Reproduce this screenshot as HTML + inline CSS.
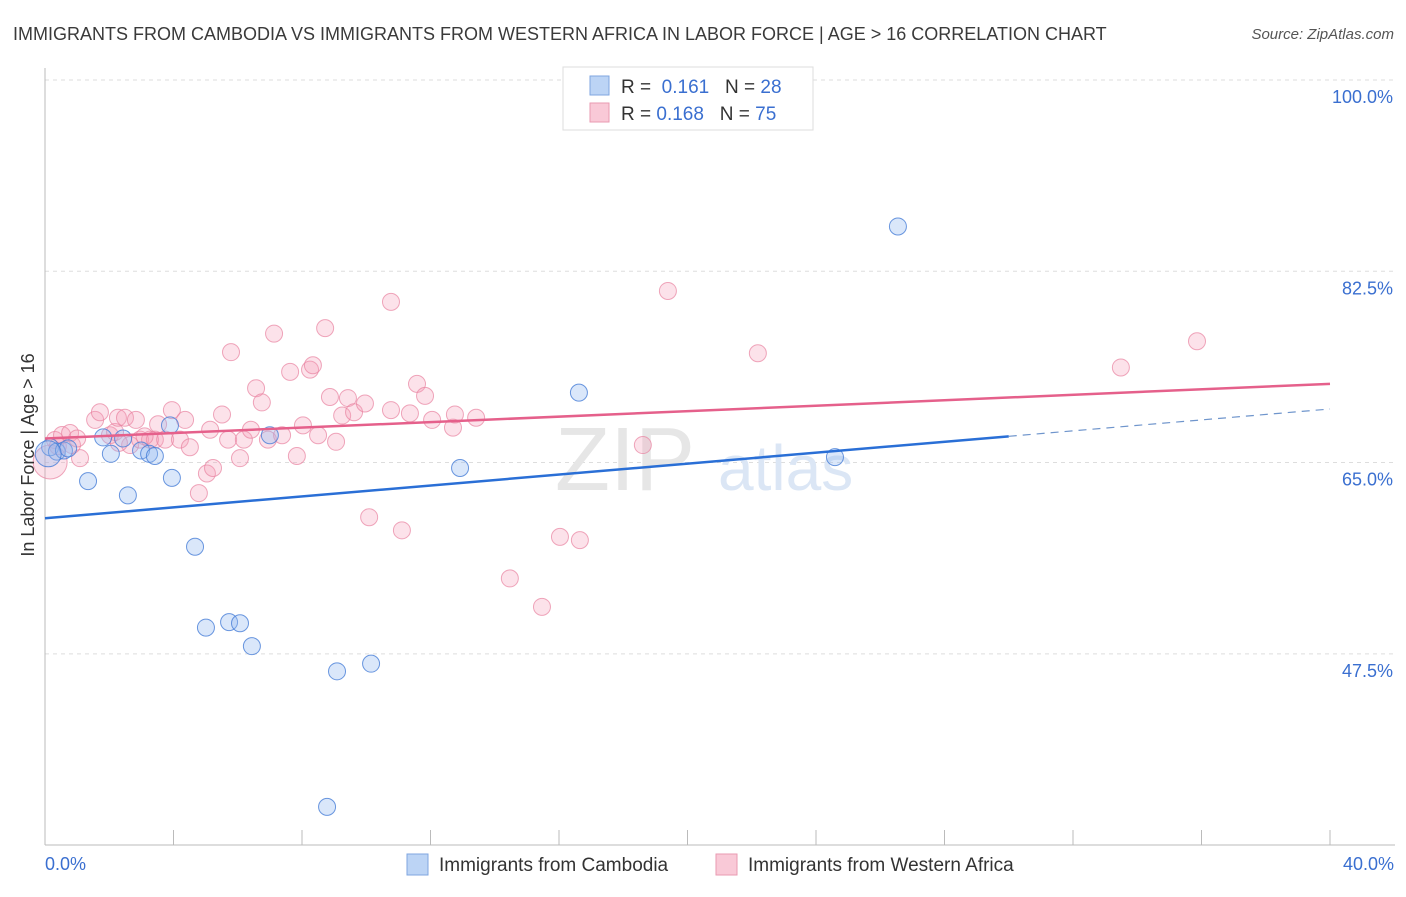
<!DOCTYPE html>
<html><head><meta charset="utf-8"><style>
body{margin:0;background:#fff;font-family:"Liberation Sans",sans-serif;}
svg text{font-family:"Liberation Sans",sans-serif;}
</style></head><body>
<svg width="1406" height="892" viewBox="0 0 1406 892">
<text x="13" y="40" font-size="18" fill="#3a3a3a">IMMIGRANTS FROM CAMBODIA VS IMMIGRANTS FROM WESTERN AFRICA IN LABOR FORCE | AGE &gt; 16 CORRELATION CHART</text>
<text x="1394" y="39" font-size="15" fill="#555" text-anchor="end" font-style="italic">Source: ZipAtlas.com</text>
<g id="grid"></g>
<text x="555" y="490" font-size="90" fill="#e6e6e6" font-family="Liberation Serif">ZIP</text>
<text x="718" y="490" font-size="64" fill="#dbe6f5">atlas</text>
<g id="pts"></g>
<g id="lines"></g>
<text transform="translate(34,455) rotate(-90)" font-size="18" fill="#333" text-anchor="middle">In Labor Force | Age &gt; 16</text>
<text x="45" y="870" font-size="18" fill="#3a6fd0">0.0%</text>
<text x="1394" y="870" font-size="18" fill="#3a6fd0" text-anchor="end">40.0%</text>
<g>
<rect x="563" y="67" width="250" height="63" fill="#fff" stroke="#ddd"/>
<rect x="590" y="76" width="19" height="19" fill="#bcd4f5" stroke="#7fa6e0"/>
<rect x="590" y="103" width="19" height="19" fill="#f9c9d7" stroke="#e99ab2"/>
<text x="621" y="93" font-size="19" fill="#333">R = <tspan fill="#3a6fd0">&#160;0.161</tspan>&#160;&#160;&#160;N = <tspan fill="#3a6fd0">28</tspan></text>
<text x="621" y="120" font-size="19" fill="#333">R = <tspan fill="#3a6fd0">0.168</tspan>&#160;&#160;&#160;N = <tspan fill="#3a6fd0">75</tspan></text>
</g>
<g>
<rect x="407" y="854" width="21" height="21" fill="#bcd4f5" stroke="#7fa6e0"/>
<text x="439" y="871" font-size="19" fill="#333">Immigrants from Cambodia</text>
<rect x="716" y="854" width="21" height="21" fill="#f9c9d7" stroke="#e99ab2"/>
<text x="748" y="871" font-size="19" fill="#333">Immigrants from Western Africa</text>
</g>
</svg>
<script>
const xTicks=[0,5,10,15,20,25,30,35,40];
const yTicks=[100,82.5,65,47.5];
const yTickLabels=["100.0%","82.5%","65.0%","47.5%"];
const cambodiaX=[0.16,0.37,0.59,0.72,1.34,1.81,2.05,2.43,2.58,2.99,3.24,3.42,3.89,3.95,4.67,5.01,5.73,6.07,6.44,7.00,9.09,10.15,8.78,12.92,16.62,24.59,26.55,0.1];
const cambodiaY=[66.4,66.0,66.1,66.3,63.3,67.3,65.8,67.2,62.0,66.1,65.8,65.6,68.4,63.6,57.3,49.9,50.4,50.3,48.2,67.5,45.9,46.6,33.5,64.5,71.4,65.5,86.6,65.8];
const africaX=[0.16,0.31,0.53,0.78,1.09,0.84,1.56,1.71,2.02,2.18,2.27,2.49,2.65,2.83,2.96,3.27,3.42,3.52,3.74,3.95,4.20,4.36,4.51,4.79,5.04,5.14,5.23,5.51,5.70,5.79,6.07,6.19,6.41,6.57,6.75,6.94,7.13,7.38,7.63,7.84,8.03,8.25,8.34,8.50,8.72,9.06,8.87,9.25,9.43,9.62,9.96,10.09,10.77,10.77,11.11,11.36,11.58,11.83,12.05,12.70,12.76,13.42,14.47,15.47,16.03,16.65,18.61,19.39,22.19,33.49,35.86,0.4,1.0,2.3,3.1];
const africaY=[65.05,67.06,67.52,67.7,65.4,66.6,68.9,69.6,67.5,67.8,69.1,69.1,66.6,68.9,67.1,67.1,67.1,68.5,67.1,69.8,67.1,68.9,66.4,62.2,64.0,68.0,64.5,69.4,67.1,75.1,65.4,67.1,68.0,71.8,70.5,67.1,76.8,67.5,73.3,65.6,68.4,73.5,73.9,67.5,77.3,66.9,71.0,69.3,70.9,69.6,70.4,60.0,79.7,69.8,58.8,69.5,72.2,71.1,68.9,68.2,69.4,69.1,54.4,51.8,58.2,57.9,66.6,80.7,75.0,73.7,76.1,66.5,67.2,66.8,67.4];
const cambodiaTrend=[59.9,69.9];
const africaTrend=[67.2,72.2];
const NS="http://www.w3.org/2000/svg";
const X=v=>45+v*32.125;
const Y=v=>80+(100-v)*10.93;
function mk(t,a,p){const e=document.createElementNS(NS,t);for(const k in a)e.setAttribute(k,a[k]);p.appendChild(e);return e;}
const g=document.getElementById('grid');
yTicks.forEach((t,i)=>{
 const l=mk('line',{x1:45,x2:1395,y1:Y(t),y2:Y(t),stroke:'#ddd','stroke-dasharray':'4,4'},g);
 
 
 const tx=mk('text',{x:1393,y:Y(t)+23,'font-size':18,fill:'#3a6fd0','text-anchor':'end'},g);
 tx.textContent=yTickLabels[i];
 
 
});
const ax=mk('line',{x1:45,x2:45,y1:68,y2:845,stroke:'#bbb'},g);


const bx=mk('line',{x1:45,x2:1395,y1:845,y2:845,stroke:'#bbb'},g);


for(let v=0;v<=40;v+=40/10){
 const t=mk('line',{x1:X(v),x2:X(v),y1:830,y2:845,stroke:'#bbb'},g);
 
 
}
const p=document.getElementById('pts');
africaX.forEach((x,i)=>{
 const r=(i===0)?17:8.5;
 const c=mk('circle',{cx:X(x),cy:Y(africaY[i]),r:r,fill:'rgba(244,160,186,0.3)',stroke:'rgba(232,130,160,0.7)','stroke-width':1},p);
 
 
});
cambodiaX.forEach((x,i)=>{
 const r=(i===27)?13:8.5;
 const c=mk('circle',{cx:X(x),cy:Y(cambodiaY[i]),r:r,fill:'rgba(150,185,240,0.35)',stroke:'rgba(70,125,215,0.8)','stroke-width':1},p);
 
 
});
const L=document.getElementById('lines');
const cy=v=>cambodiaTrend[0]+(cambodiaTrend[1]-cambodiaTrend[0])*v/40;
const l1=mk('line',{x1:X(0),y1:Y(cy(0)),x2:X(30),y2:Y(cy(30)),stroke:'#2a6fd6','stroke-width':2.5},L);


const l2=mk('line',{x1:X(30),y1:Y(cy(30)),x2:X(40),y2:Y(cy(40)),stroke:'#6f95cc','stroke-width':1.2,'stroke-dasharray':'8,6'},L);


const l3=mk('line',{x1:X(0),y1:Y(africaTrend[0]),x2:X(40),y2:Y(africaTrend[1]),stroke:'#e5608b','stroke-width':2.5},L);


</script>
</body></html>
